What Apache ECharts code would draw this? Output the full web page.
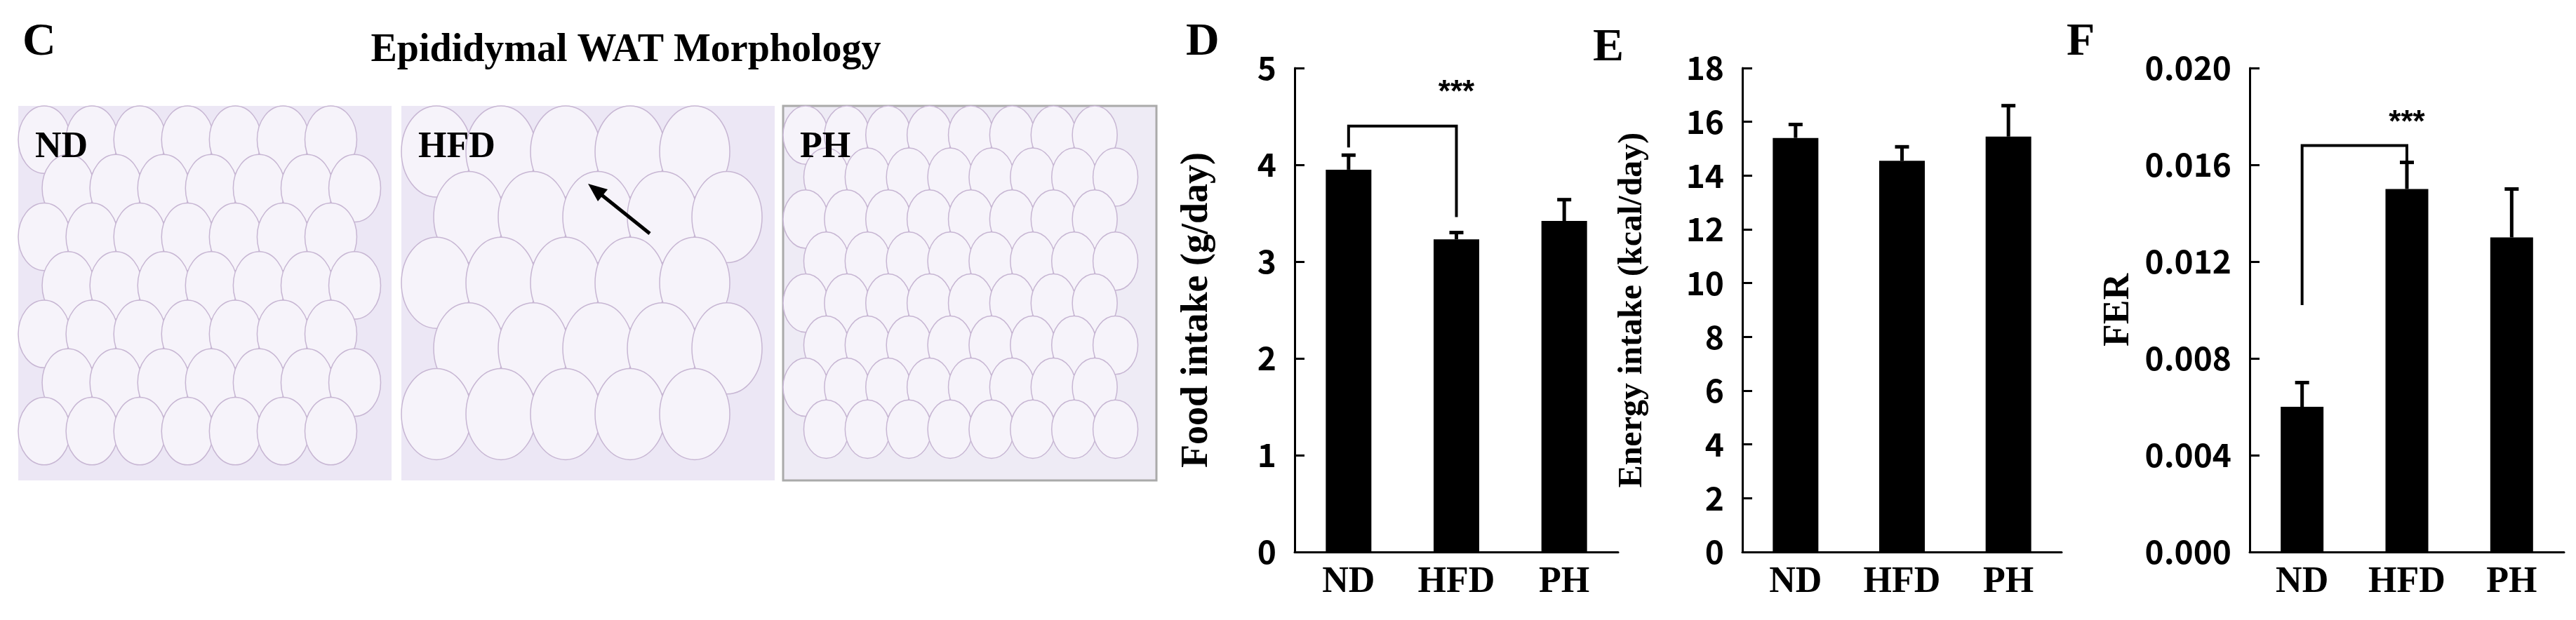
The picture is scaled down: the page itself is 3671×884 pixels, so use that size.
<!DOCTYPE html>
<html>
<head>
<meta charset="utf-8">
<script src="https://cdn.jsdelivr.net/npm/echarts@6/dist/echarts.min.js"></script>
<style>
html, body { margin: 0; padding: 0; background: #fff; }
#chart { width: 3671px; height: 884px; }
</style>
</head>
<body>
<div id="chart"></div>
<script>
var groups = ['ND', 'HFD', 'PH'];

var foodMean = [3.95, 3.23, 3.42];
var foodErr = [0.15, 0.07, 0.22];
var foodTicks = [0, 1, 2, 3, 4, 5];

var energyMean = [15.4, 14.55, 15.45];
var energyErr = [0.5, 0.52, 1.15];
var energyTicks = [0, 2, 4, 6, 8, 10, 12, 14, 16, 18];

var ferMean = [0.0060, 0.0150, 0.0130];
var ferErr = [0.0010, 0.0011, 0.0020];
var ferTicks = [0, 0.004, 0.008, 0.012, 0.016, 0.020];

// bracket: [from, to, top, leftBottom, rightBottom, starsY]
var foodBracket = [0, 1, 4.40, 4.18, 3.46, 4.74];
var ferBracket = [0, 1, 0.0168, 0.0102, 0.0161, 0.0177];

var chart = echarts.init(document.getElementById('chart'));

var tickFont = { color: '#000', fontFamily: 'Noto Sans CJK KR', fontWeight: 'bold', fontSize: 46, margin: 26 };
var serif = 'Liberation Serif';

function grid(left, width) {
    return { left: left, top: 97, width: width, height: 690 };
}

function xAxis(i) {
    return {
        type: 'category', gridIndex: i, data: groups,
        axisLine: { lineStyle: { color: '#000', width: 3 } },
        axisTick: { inside: true, length: 14, lineStyle: { color: '#000', width: 3 } },
        axisLabel: { color: '#000', fontFamily: serif, fontWeight: 'bold', fontSize: 52, margin: 18 }
    };
}

function yAxis(i, ticks, name, fmt, gap, size) {
    return {
        type: 'value', gridIndex: i, min: ticks[0], max: ticks[ticks.length - 1],
        interval: ticks[1] - ticks[0],
        name: name, nameLocation: 'middle', nameGap: gap, nameRotate: 90,
        nameTextStyle: { color: '#000', fontFamily: serif, fontWeight: 'bold', fontSize: size },
        axisLine: { show: true, lineStyle: { color: '#000', width: 3 } },
        axisTick: { show: true, inside: true, length: 14, lineStyle: { color: '#000', width: 3 } },
        splitLine: { show: false },
        axisLabel: Object.assign({ formatter: fmt }, tickFont)
    };
}

function bars(i, data, w) {
    return {
        type: 'bar', xAxisIndex: i, yAxisIndex: i, data: data, barWidth: w,
        itemStyle: { color: '#000' }, z: 2
    };
}

function errBars(i, mean, err) {
    var d = mean.map(function (m, k) { return [k, m, m + err[k]]; });
    return {
        type: 'custom', xAxisIndex: i, yAxisIndex: i, data: d, z: 3,
        renderItem: function (params, api) {
            var a = api.coord([api.value(0), api.value(1)]);
            var b = api.coord([api.value(0), api.value(2)]);
            var s = { stroke: '#000', lineWidth: 5 };
            return {
                type: 'group', children: [
                    { type: 'line', shape: { x1: a[0], y1: a[1], x2: b[0], y2: b[1] }, style: s },
                    { type: 'line', shape: { x1: a[0] - 10, y1: b[1], x2: a[0] + 10, y2: b[1] }, style: s }
                ]
            };
        }
    };
}

function bracket(i, br) {
    return {
        type: 'custom', xAxisIndex: i, yAxisIndex: i, data: [br], z: 4,
        renderItem: function (params, api) {
            var p1 = api.coord([api.value(0), api.value(2)]);
            var p2 = api.coord([api.value(1), api.value(2)]);
            var l = api.coord([api.value(0), api.value(3)]);
            var r = api.coord([api.value(1), api.value(4)]);
            var st = api.coord([(api.value(0) + api.value(1)) / 2, api.value(5)]);
            return {
                type: 'group', children: [
                    { type: 'polyline', shape: { points: [[l[0], l[1]], [p1[0], p1[1]], [p2[0], p2[1]], [r[0], r[1]]] },
                      style: { stroke: '#000', lineWidth: 4, fill: null } },
                    { type: 'text', x: st[0], y: st[1],
                      style: { text: '***', fill: '#000', font: 'bold 44px "Liberation Sans"', align: 'center', verticalAlign: 'middle' } }
                ]
            };
        }
    };
}

// micrograph panels (decorative)
var panels = [[26, 'ND'], [572, 'HFD'], [1116, 'PH']];
var graphics = [
    { type: 'text', left: 32, top: 28, style: { text: 'C', font: 'bold 66px "Liberation Serif"', fill: '#000' } },
    { type: 'text', x: 892, y: 73, style: { text: 'Epididymal WAT Morphology', font: 'bold 56px "Liberation Serif"', fill: '#000', align: 'center', verticalAlign: 'middle' } },
    { type: 'text', left: 1690, top: 28, style: { text: 'D', font: 'bold 66px "Liberation Serif"', fill: '#000' } },
    { type: 'text', left: 2270, top: 36, style: { text: 'E', font: 'bold 66px "Liberation Serif"', fill: '#000' } },
    { type: 'text', left: 2945, top: 28, style: { text: 'F', font: 'bold 66px "Liberation Serif"', fill: '#000' } }
];
panels.forEach(function (p, k) {
    var x0 = p[0], w = 532, h = 534, y0 = 151;
    graphics.push({ type: 'rect', shape: { x: x0, y: y0, width: w, height: h },
        style: { fill: k === 2 ? '#eeebf5' : '#ece7f5', stroke: k === 2 ? '#aaa' : null, lineWidth: 3 } });
    var cw = k === 1 ? 100 : (k === 2 ? 64 : 74), ch = cw * 1.3;
    for (var r = 0; r < 40; r++) {
        var cy = y0 + ch / 2 + r * ch * 0.72;
        if (cy + ch / 2 > y0 + h) break;
        for (var c = 0; c < 40; c++) {
            var cx = x0 + cw / 2 + c * cw * 0.92 + (r % 2) * cw * 0.46;
            if (cx + cw / 2 > x0 + w) break;
            graphics.push({ type: 'ellipse', silent: true, shape: { cx: cx, cy: cy, rx: cw / 2, ry: ch / 2 },
                style: { fill: '#f6f3fa', stroke: '#c7b6d3', lineWidth: 1.5 } });
        }
    }
    graphics.push({ type: 'text', x: x0 + 24, y: 211,
        style: { text: p[1], font: 'bold 52px "Liberation Serif"', fill: '#000', verticalAlign: 'middle' } });
});
graphics.push({ type: 'line', shape: { x1: 926, y1: 333, x2: 850, y2: 272 }, style: { stroke: '#000', lineWidth: 5 } });
graphics.push({ type: 'polygon', shape: { points: [[838, 262], [866, 270], [852, 287]] }, style: { fill: '#000' } });

chart.setOption({
    animation: false,
    backgroundColor: '#fff',
    grid: [grid(1845, 461), grid(2483, 455), grid(3206, 448)],
    xAxis: [xAxis(0), xAxis(1), xAxis(2)],
    yAxis: [
        yAxis(0, foodTicks, 'Food intake (g/day)', function (v) { return String(v); }, 112, 54),
        yAxis(1, energyTicks, 'Energy intake (kcal/day)', function (v) { return String(v); }, 132, 48),
        yAxis(2, ferTicks, 'FER', function (v) { return v.toFixed(3); }, 160, 52)
    ],
    series: [
        bars(0, foodMean, 65), errBars(0, foodMean, foodErr), bracket(0, foodBracket),
        bars(1, energyMean, 65), errBars(1, energyMean, energyErr),
        bars(2, ferMean, 61), errBars(2, ferMean, ferErr), bracket(2, ferBracket)
    ],
    graphic: graphics
});
</script>
</body>
</html>
